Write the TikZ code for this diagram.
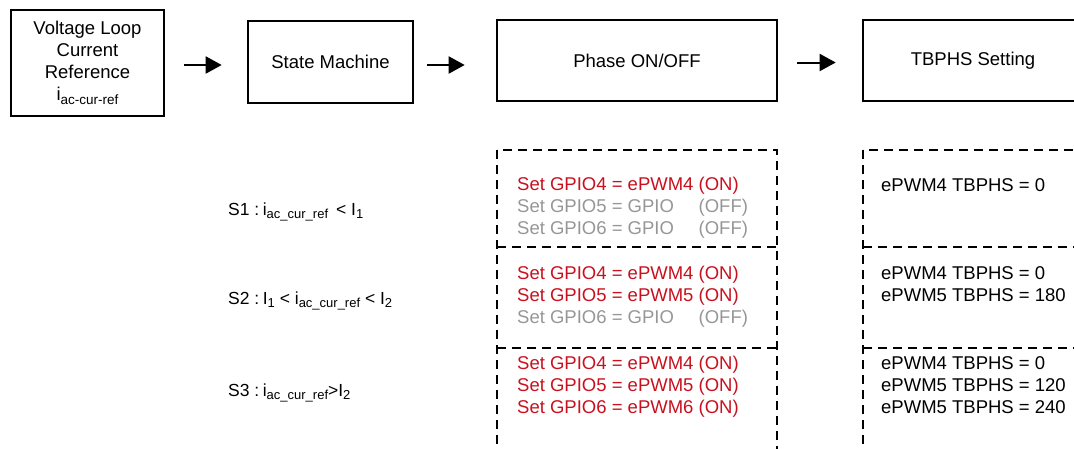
\documentclass[tikz,border=0pt]{standalone}
\usepackage{fontspec}
\setmainfont{Liberation Sans}
\usetikzlibrary{arrows.meta}
\definecolor{onred}{RGB}{200,16,30}
\definecolor{offgray}{RGB}{150,150,150}
\newcommand\boxsub[1]{\raisebox{-3.5pt}{\fontsize{13.5}{14}\selectfont #1}}
\newcommand\lbsub[1]{\raisebox{-3pt}{\fontsize{13}{13}\selectfont #1}}
\newcommand\offtext[1]{\makebox[0pt][l]{#1}\phantom{Set GPIO4 = ePWM4\ }(OFF)}
\begin{document}
\begin{tikzpicture}[x=1pt,y=-1pt,
  box/.style={draw, line width=2.6pt, inner sep=0pt, align=center, font=\fontsize{18.5}{22}\selectfont},
  arr/.style={line width=2pt, -{Triangle[length=16pt,width=17pt]}},
  frame/.style={line width=2.6pt, dash pattern=on 9pt off 6pt},
  txtline/.style={anchor=base west, inner sep=0pt, font=\fontsize{18.5}{22}\selectfont},
  online/.style={txtline, text=onred},
  offline/.style={txtline, text=offgray},
  lab/.style={anchor=base west, inner sep=0pt, font=\fontsize{17.5}{21}\selectfont}]
\clip (0,0) rectangle (1074,448);
\useasboundingbox (0,0) rectangle (1074,448);

% top boxes
\node[box, minimum width=153pt, minimum height=106pt] (vl) at (87.5,63)
  {Voltage Loop\\Current\\Reference\\i\boxsub{ac-cur-ref}};
\node[box, minimum width=165pt, minimum height=82pt] (sm) at (330.5,62) {State Machine};
\node[box, minimum width=280pt, minimum height=81pt] (ph) at (637,60.5) {Phase ON/OFF};
\node[box, minimum width=220pt, minimum height=81pt] (tb) at (973,60.5) {TBPHS Setting};

% arrows
\draw[arr, shorten <=19pt, shorten >=25pt] ([yshift=-3pt]vl.east |- sm.west) -- ([yshift=-3pt]sm.west);
\draw[arr, shorten <=13pt, shorten >=31pt] ([yshift=-3pt]sm.east) -- ([yshift=-3pt]sm.east -| ph.west);
\draw[arr, shorten <=19pt, shorten >=26pt] ([yshift=-2pt]ph.east) -- ([yshift=-2pt]tb.west);

% dashed frames
\draw[frame] (497,150) rectangle (777,470);
\draw[frame] (497,247) -- (777,247);
\draw[frame] (497,348) -- (777,348);
\draw[frame] (863,150) rectangle (1083,470);
\draw[frame] (863,247) -- (1083,247);
\draw[frame] (863,348) -- (1083,348);

% state labels
\node[lab] (s1) at (228,215) {S1 :\hspace{3.5pt}i\lbsub{ac\_cur\_ref}\hspace{8pt}< I\lbsub{1}};
\node[lab] (s2) at (228,304) {S2 :\hspace{3.5pt}I\lbsub{1} < i\lbsub{ac\_cur\_ref} < I\lbsub{2}};
\node[lab] (s3) at (228,396) {S3 :\hspace{3.5pt}i\lbsub{ac\_cur\_ref}>I\lbsub{2}};

% phase on/off texts
\node[online] (p1a) at (517,190) {Set GPIO4 = ePWM4 (ON)};
\node[offline] (p1b) at (517,212) {\offtext{Set GPIO5 = GPIO}};
\node[offline] (p1c) at (517,234) {\offtext{Set GPIO6 = GPIO}};
\node[online] (p2a) at (517,279) {Set GPIO4 = ePWM4 (ON)};
\node[online] (p2b) at (517,301) {Set GPIO5 = ePWM5 (ON)};
\node[offline] (p2c) at (517,323) {\offtext{Set GPIO6 = GPIO}};
\node[online] (p3a) at (517,369) {Set GPIO4 = ePWM4 (ON)};
\node[online] (p3b) at (517,391) {Set GPIO5 = ePWM5 (ON)};
\node[online] (p3c) at (517,413) {Set GPIO6 = ePWM6 (ON)};

% TBPHS texts
\node[txtline] (t1a) at (881,191) {ePWM4 TBPHS = 0};
\node[txtline] (t2a) at (881,279) {ePWM4 TBPHS = 0};
\node[txtline] (t2b) at (881,301) {ePWM5 TBPHS = 180};
\node[txtline] (t3a) at (881,369) {ePWM4 TBPHS = 0};
\node[txtline] (t3b) at (881,391) {ePWM5 TBPHS = 120};
\node[txtline] (t3c) at (881,413) {ePWM5 TBPHS = 240};
\end{tikzpicture}
\end{document}
